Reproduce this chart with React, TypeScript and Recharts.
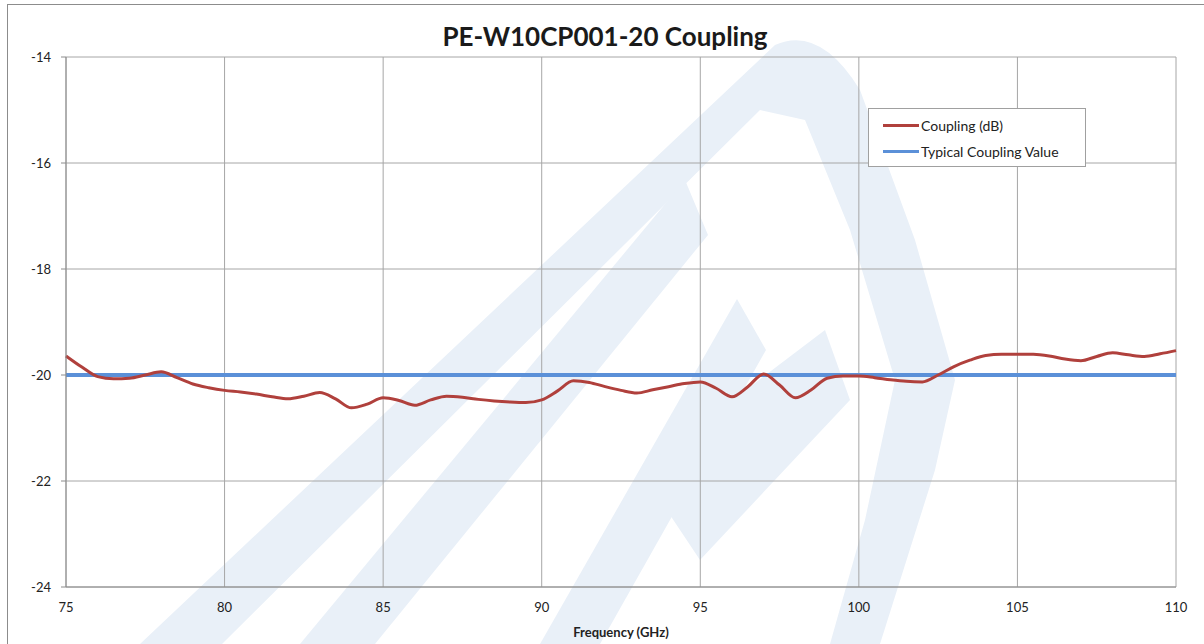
import { LineChart, Line, XAxis, YAxis, CartesianGrid } from "recharts"

// frequency points (GHz)
const freqs = [
  75, 75.5, 76, 76.5, 77, 77.5, 78, 78.5, 79, 79.5, 80, 80.5, 81, 81.5, 82, 82.5, 83, 83.5, 84, 84.5,
  85, 85.5, 86, 86.5, 87, 87.5, 88, 88.5, 89, 89.5, 90, 90.5, 91, 91.5, 92, 92.5, 93, 93.5, 94, 94.5,
  95, 95.5, 96, 96.5, 97, 97.5, 98, 98.5, 99, 99.5, 100, 100.5, 101, 101.5, 102, 102.5, 103, 103.5,
  104, 104.5, 105, 105.5, 106, 106.5, 107, 107.5, 108, 108.5, 109, 109.5, 110,
]

// measured coupling (dB)
const coupling = [
  -19.64, -19.85, -20.03, -20.07, -20.06, -20.0, -19.94, -20.05, -20.17, -20.24, -20.29, -20.32,
  -20.36, -20.41, -20.45, -20.4, -20.33, -20.45, -20.62, -20.55, -20.43, -20.48, -20.57, -20.47,
  -20.4, -20.42, -20.46, -20.49, -20.51, -20.52, -20.47, -20.3, -20.11, -20.14, -20.22, -20.29,
  -20.34, -20.28, -20.22, -20.16, -20.13, -20.25, -20.41, -20.22, -19.98, -20.19, -20.43, -20.28,
  -20.06, -20.02, -20.02, -20.05, -20.09, -20.12, -20.13, -20.0, -19.84, -19.72, -19.63, -19.61,
  -19.61, -19.61, -19.64, -19.7, -19.73, -19.65, -19.58, -19.62, -19.65, -19.6, -19.54,
]

const typicalValue = -20

const xTicks = [75, 80, 85, 90, 95, 100, 105, 110]
const yTicks = [-24, -22, -20, -18, -16, -14]

const data = freqs.map((f, i) => ({ freq: f, coupling: coupling[i], typical: typicalValue }))

const FONT = "Lato, 'Open Sans', sans-serif"
const RED = "#b0403c"
const BLUE = "#5b90d8"

const legendItems = [
  { label: "Coupling (dB)", color: RED },
  { label: "Typical Coupling Value", color: BLUE },
]

const LegendBox = () => (
  <div
    style={{
      position: "absolute",
      left: 868,
      top: 108,
      width: 218,
      height: 59,
      border: "1px solid #a0a0a0",
      background: "#fff",
      fontFamily: FONT,
      fontSize: 14,
      color: "#222",
      boxSizing: "border-box",
      padding: "3px 0 0 14px",
    }}
  >
    {legendItems.map(item => (
      <div key={item.label} style={{ display: "flex", alignItems: "center", height: 26 }}>
        <div style={{ width: 36, height: 3, background: item.color, marginRight: 2 }} />
        <span>{item.label}</span>
      </div>
    ))}
  </div>
)

// faint logo watermark behind the plot
const Watermark = () => (
  <svg width={1204} height={644} style={{ position: "absolute", left: 0, top: 0 }}>
    <g fill="#e9f0f8">
      <path d="M140 644 L222 644 L760 110 L805 120 L850 230 L895 380 L865 520 L830 644 L880 644 L935 470 L955 380 L915 240 L860 90 Q820 25 775 45 Z" />
      <path d="M300 644 L375 644 L708 235 L685 180 Z" />
      <path d="M540 644 L600 644 L766 350 L737 299 Z" />
      <path d="M640 470 L700 560 L850 400 L825 330 Z" />
    </g>
  </svg>
)

export default function App() {
  return (
    <div style={{ position: "absolute", left: 0, top: 0, width: 1204, height: 644, background: "#fff", overflow: "hidden" }}>
      <Watermark />
      <div
        style={{
          position: "absolute",
          left: 7,
          top: 4,
          width: 1200,
          height: 700,
          border: "1px solid #8c8c8c",
        }}
      />
      <div
        style={{
          position: "absolute",
          left: 7,
          width: 1196,
          top: 20,
          textAlign: "center",
          fontFamily: FONT,
          fontWeight: 700,
          fontSize: 26,
          color: "#1a1a1a",
        }}
      >
        PE-W10CP001-20 Coupling
      </div>
      <div style={{ position: "absolute", left: 0, top: 0 }}>
        <LineChart width={1204} height={644} data={data} margin={{ top: 57, right: 28, bottom: 0, left: 0 }}>
          <CartesianGrid stroke="#a6a6a6" strokeWidth={1} />
          <XAxis
            dataKey="freq"
            type="number"
            domain={[75, 110]}
            ticks={xTicks}
            height={57}
            stroke="#8c8c8c"
            tickLine={false}
            tickSize={0}
            tickMargin={16}
            tick={{ fill: "#222", fontSize: 13, fontFamily: FONT }}
            label={{
              value: "Frequency (GHz)",
              position: "insideBottom",
              offset: 7,
              fill: "#222",
              fontSize: 13,
              fontWeight: 700,
              fontFamily: FONT,
            }}
          />
          <YAxis
            type="number"
            domain={[-24, -14]}
            ticks={yTicks}
            width={66}
            stroke="#8c8c8c"
            tickSize={5}
            tickMargin={10}
            tick={{ fill: "#222", fontSize: 13, fontFamily: FONT }}
          />
          <Line
            dataKey="typical"
            name="Typical Coupling Value"
            type="linear"
            stroke={BLUE}
            strokeWidth={4}
            dot={false}
            isAnimationActive={false}
          />
          <Line
            dataKey="coupling"
            name="Coupling (dB)"
            type="monotone"
            stroke={RED}
            strokeWidth={3}
            dot={false}
            isAnimationActive={false}
          />
        </LineChart>
      </div>
      <LegendBox />
    </div>
  )
}
